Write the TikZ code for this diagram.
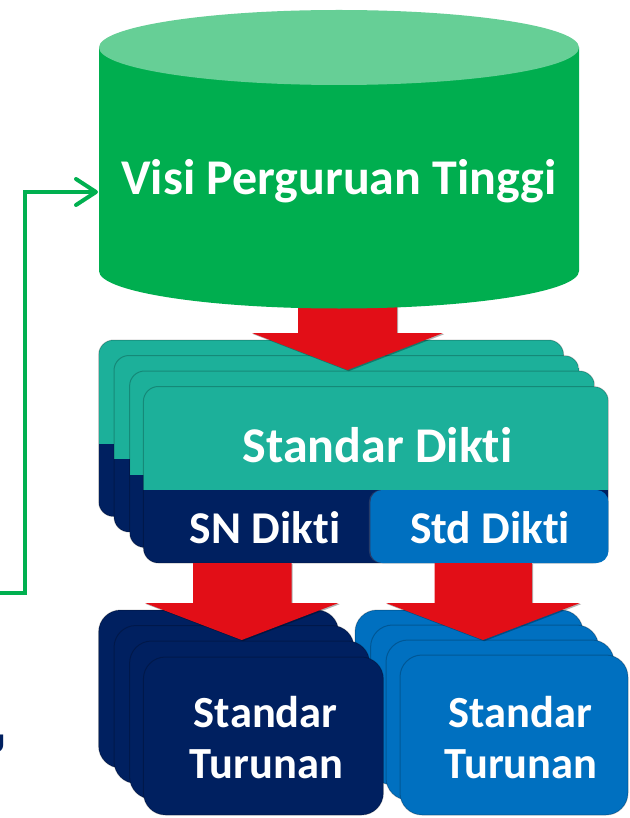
\documentclass[tikz,border=0pt]{standalone}
\usepackage{fontspec}
\setmainfont{Carlito}[Ligatures=NoCommon]
\usetikzlibrary{arrows.meta,shadows}
\definecolor{cgreen}{HTML}{00AE4F}
\definecolor{cgreenlt}{HTML}{66CF96}
\definecolor{cteal}{HTML}{1CB09A}
\definecolor{cnavy}{HTML}{002060}
\definecolor{cblue}{HTML}{0070C0}
\definecolor{cred}{HTML}{E20E17}
\definecolor{cline}{HTML}{00B050}
\newcommand\fbig{\fontsize{50}{58}\selectfont\bfseries}
\newcommand\fmid{\fontsize{45.5}{52}\selectfont\bfseries}
\newcommand\fsub{\fontsize{44.5}{52}\selectfont\bfseries}
\begin{document}
\begin{tikzpicture}[x=1pt,y=-1pt,
  lbl/.style={text=white, inner sep=0pt},
  edgeline/.style={draw=black, draw opacity=0.22, line width=1pt},
  redarrow/.style={fill=cred, drop shadow={shadow xshift=1.2pt, shadow yshift=-1.2pt, opacity=0.3, fill=black}},
  gline/.style={draw=cline, line width=4pt, line join=miter}]
\useasboundingbox (0,0) rectangle (629,818);
\fill[white] (0,0) rectangle (629,818);

% ---------- top stack: Standar Dikti ----------
\foreach \xo/\yo in {98.6/340, 114/355.5, 129.6/371, 143.4/386.5} {
  \begin{scope}[shift={(\xo,\yo)}]
    \begin{scope}
      \clip[rounded corners=15] (0,0) rectangle (465,176.5);
      \fill[cteal] (0,0) rectangle (465,103.5);
      \fill[cnavy] (0,103.5) rectangle (465,176.5);
    \end{scope}
    \draw[rounded corners=15, edgeline] (0,0) rectangle (465,176.5);
    \fill[cblue, rounded corners=12, drop shadow={shadow xshift=-1.5pt, shadow yshift=0pt, opacity=0.3}] (227,103.5) rectangle (465,176.5);
  \end{scope}
}
\node[lbl, font=\fbig, anchor=base] (sd) at (377.5,462) {Standar Dikti};
\node[lbl, font=\fmid, anchor=base] (sn) at (265,543) {SN Dikti};
\node[lbl, font=\fmid, anchor=base] (std) at (490,543) {Std Dikti};

% ---------- bottom stacks (blue behind navy) ----------
\foreach \xo/\yo in {355/610, 370.6/625, 386/640, 400/655} {
  \fill[cblue, rounded corners=22] (\xo,\yo) rectangle ++(228,160);
  \draw[rounded corners=22, edgeline] (\xo,\yo) rectangle ++(228,160);
}
\foreach \xo/\yo in {98.6/610, 114/625.5, 129.6/641, 143.4/657} {
  \fill[cnavy, rounded corners=22] (\xo,\yo) rectangle ++(240,158);
  \draw[rounded corners=22, edgeline] (\xo,\yo) rectangle ++(240,158);
}
\node[lbl, font=\fsub, anchor=base] (tl1) at (265.7,727) {Standar};
\node[lbl, font=\fsub, anchor=base] (tl2) at (266.5,778) {Turunan};
\node[lbl, font=\fsub, anchor=base] (tr1) at (520,727) {Standar};
\node[lbl, font=\fsub, anchor=base] (tr2) at (521,778) {Turunan};

% ---------- red block arrows ----------
\path[redarrow] (298,296) -- (397,296) -- (397,333) -- (443,333) -- (347.5,370) -- (252,333) -- (298,333) -- cycle;
\path[redarrow] (193,563) -- (291.5,563) -- (291.5,603) -- (338.5,603) -- (241.7,640) -- (145,603) -- (193,603) -- cycle;
\path[redarrow] (434.5,563) -- (532,563) -- (532,603) -- (580,603) -- (483,640) -- (386,603) -- (434.5,603) -- cycle;

% ---------- cylinder: Visi Perguruan Tinggi ----------
\fill[cgreen] (99,47.5) -- (99,271) arc[start angle=180, end angle=0, x radius=240, y radius=37.5] -- (579,47.5) -- cycle;
\fill[cgreenlt] (339,47.5) ellipse[x radius=240, y radius=37.5];
\node[lbl, font=\fbig, anchor=base] (visi) at (339,195) {Visi Perguruan Tinggi};

% ---------- green feedback connector ----------
\coordinate (fb) at (0,593);
\coordinate (cylin) at (98,192);
\draw[gline, -{Straight Barb[length=20pt, width=26pt, line cap=round, line join=round]}] (fb) -- ++(25,0) |- (cylin);

% ---------- cut-off letter at left edge ----------
\node[text=cnavy, inner sep=0pt, font=\fontsize{27}{30}\selectfont\bfseries, anchor=base east] (cut) at (5,752) {U};
\end{tikzpicture}
\end{document}
